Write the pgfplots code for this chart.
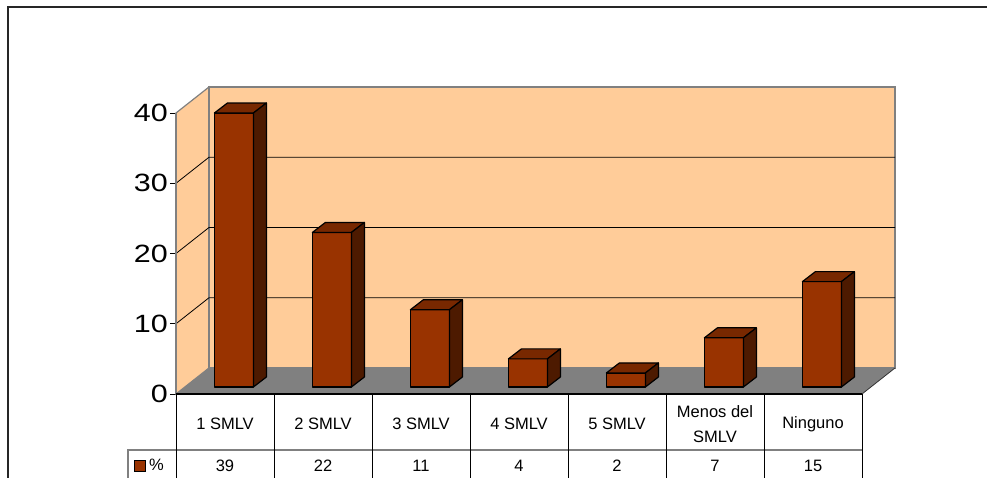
\documentclass[border=0pt]{standalone}
\usepackage{graphicx}
\usepackage{pgfplots}
\pgfplotsset{compat=1.18}
\usepackage{pgfplotstable}
\usepackage{fontspec}
\setmainfont{Liberation Sans}

\definecolor{wall}{RGB}{255,204,153}
\definecolor{floorgray}{RGB}{128,128,128}
\definecolor{barfront}{RGB}{153,51,0}
\definecolor{bartop}{RGB}{120,40,0}
\definecolor{barside}{RGB}{77,26,0}

\pgfdeclareplotmark{blank}{}

% category centres and values (%)
\pgfplotstableread{
x   v
0.5 39
1.5 22
2.5 11
3.5 4
4.5 2
5.5 7
6.5 15
}\smlv

\newcommand\tabfont{\fontsize{16.5}{25}\selectfont}

\begin{document}
\begin{tikzpicture}
\useasboundingbox (-176pt,-84pt) rectangle (811pt,394pt);
\begin{axis}[
    at={(0pt,0pt)}, anchor=south west,
    x=98pt, y=7.025pt,
    xmin=0, xmax=7, ymin=0, ymax=40,
    enlargelimits=false,
    clip=false,
    axis line style={draw=none},
    ytick={0,10,20,30,40},
    ytick pos=left,
    xtick pos=left,
    tick align=outside,
    major tick length=6pt,
    ytick style={black, line width=0.8pt},
    xtick style={draw=none},
    yticklabel={\scalebox{1.22}[1]{\pgfmathprintnumber[assume math mode=true]{\tick}}},
    yticklabel style={font=\fontsize{25}{30}\selectfont, inner xsep=2pt},
    xtick={0.5,1.5,2.5,3.5,4.5,5.5,6.5},
    xticklabels={1 SMLV,2 SMLV,3 SMLV,4 SMLV,5 SMLV,{Menos del\\SMLV},Ninguno},
    xticklabel style={font=\tabfont, align=center, anchor=center, yshift=-24pt},
    /pgf/number format/assume math mode=true,
    legend style={at={(axis cs:-0.435,-10.25)}, anchor=west, draw=none, fill=none,
        font=\tabfont, inner sep=0pt},
]
% walls and floor
\addplot[forget plot, fill=wall, draw=floorgray, line width=1.2pt]
    coordinates {(0,0) (0.3367,3.701) (0.3367,43.701) (0,40)} -- cycle;
\addplot[forget plot, fill=wall, draw=floorgray, line width=1.2pt]
    coordinates {(0.3367,3.701) (7.3367,3.701) (7.3367,43.701) (0.3367,43.701)} -- cycle;
\addplot[forget plot, draw=floorgray, line width=2.2pt] coordinates {(7.3367,3.701) (7.3367,43.701)};
% grid on side and back wall
\addplot[forget plot, black, line width=0.8pt] coordinates {(0,10) (0.3367,13.701) (7.3367,13.701)};
\addplot[forget plot, black, line width=0.8pt] coordinates {(0,20) (0.3367,23.701) (7.3367,23.701)};
\addplot[forget plot, black, line width=0.8pt] coordinates {(0,30) (0.3367,33.701) (7.3367,33.701)};
\addplot[forget plot, fill=floorgray, draw=none]
    coordinates {(0,0) (7,0) (7.3367,3.701) (0.3367,3.701)} -- cycle;
\addplot[forget plot, black!80, line width=0.8pt] coordinates {(7,0) (7.3367,3.701)};
\addplot[forget plot, floorgray, line width=1.2pt] coordinates {(0,0) (0,40)};

% 3D bars
\addplot[forget plot, scatter, only marks, mark=blank,
    visualization depends on={\thisrow{v} \as \val},
    scatter/@pre marker code/.code={%
        \pgfmathsetlengthmacro\h{\val*7.025pt}%
        \filldraw[fill=barfront, draw=black, line width=1.2pt, line join=round]
            (-10.6pt,{7pt-\h}) rectangle (28.4pt,7pt);
        \filldraw[fill=bartop, draw=black, line width=1.2pt, line join=round]
            (-10.6pt,7pt) -- (28.4pt,7pt) -- (41.4pt,17pt) -- (2.4pt,17pt) -- cycle;
        \filldraw[fill=barside, draw=black, line width=1.2pt, line join=round]
            (28.4pt,7pt) -- (41.4pt,17pt) -- (41.4pt,{17pt-\h}) -- (28.4pt,{7pt-\h}) -- cycle;
    },
    scatter/@post marker code/.code={},
] table[x=x, y=v] {\smlv};

% data table
\addplot[forget plot, black, line width=1.2pt] coordinates {(0,0) (7,0)};
\addplot[forget plot, floorgray, line width=1.2pt] coordinates {(-0.49,-12.3) (-0.49,-7.97) (7,-7.97)};
\pgfplotsinvokeforeach{0,...,7}{
  \addplot[forget plot, black, line width=1pt] coordinates {(#1,0) (#1,-12.3)};
}
\addplot[forget plot, draw=none, mark=none, nodes near coords, point meta=\thisrow{v},
    nodes near coords align={center},
    every node near coord/.append style={font=\tabfont, anchor=center}]
    table[x=x, y expr=-10.25] {\smlv};
\addlegendimage{legend image code/.code={\draw[fill=barfront, draw=black, line width=1.1pt] (0pt,-5.5pt) rectangle (11pt,5.5pt);}}
\addlegendentry{\hspace{1.5pt}\%}

% outer frame
\addplot[forget plot, black!85, line width=1.5pt] coordinates {(-1.714,-12.3) (-1.714,55.09) (8.4,55.09)};
\end{axis}
\end{tikzpicture}
\end{document}
